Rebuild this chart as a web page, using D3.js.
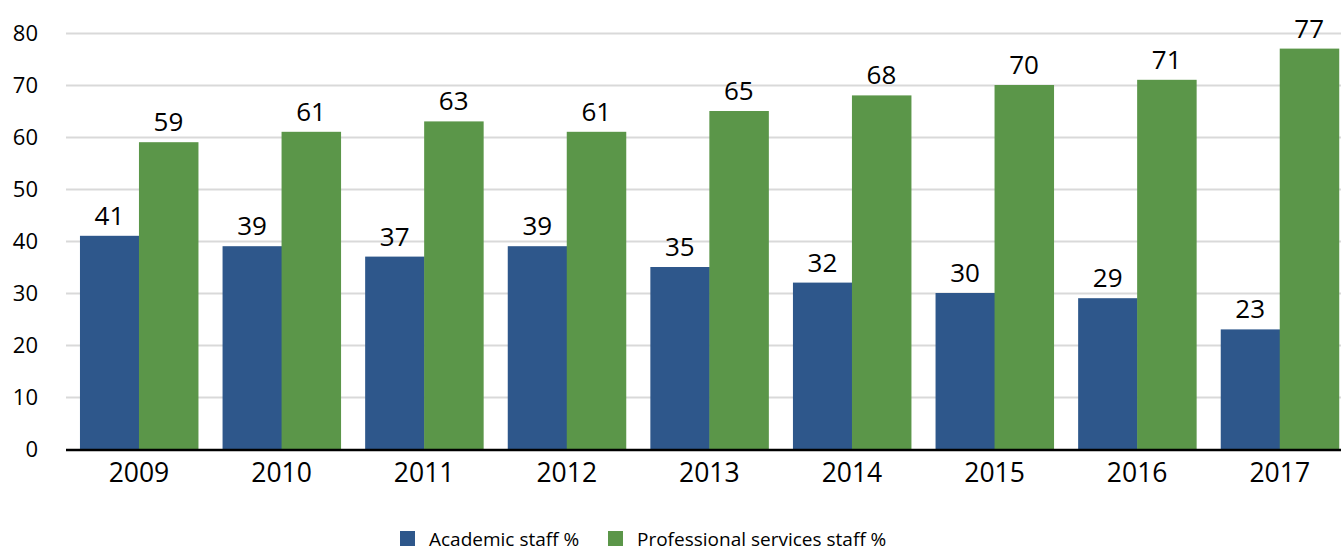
<!DOCTYPE html>
<html lang="en">
<head>
<meta charset="utf-8">
<title>Staff split</title>
<script src="https://d3js.org/d3.v7.min.js"></script>
<style>
  body { margin: 0; background: #fff; }
  text { font-family: "Open Sans", "Noto Sans", sans-serif; fill: #000; }
  .grid path { display: none; }
</style>
</head>
<body>
<svg id="chart" width="1341" height="547"></svg>
<script>
// data
var years = ["2009", "2010", "2011", "2012", "2013", "2014", "2015", "2016", "2017"];
var academic = [41, 39, 37, 39, 35, 32, 30, 29, 23];
var professional = [59, 61, 63, 61, 65, 68, 70, 71, 77];
var seriesNames = ["Academic staff %", "Professional services staff %"];
var yTicks = [0, 10, 20, 30, 40, 50, 60, 70, 80];
var colors = ["#2e578b", "#5b9649"];

var svg = d3.select("#chart");
var plotLeft = 67.7, plotRight = 1351, plotTop = 33, plotBottom = 449;

var x0 = d3.scaleBand().domain(years).range([plotLeft, plotRight]).paddingInner(0.1725).paddingOuter(0.086);
var x1 = d3.scaleBand().domain([0, 1]).range([0, x0.bandwidth()]);
var y = d3.scaleLinear().domain([0, 80]).range([plotBottom, plotTop]);

// gridlines
svg.append("g")
  .attr("class", "grid")
  .attr("transform", "translate(66,0)")
  .call(d3.axisLeft(y).tickValues(yTicks.slice(1)).tickSize(-1300).tickFormat(""))
  .call(function(g) { g.selectAll("line").attr("stroke", "#d9d9d9").attr("stroke-width", 2); });

// y labels
svg.append("g").selectAll("text")
  .data(yTicks)
  .enter().append("text")
  .attr("x", 38)
  .attr("y", function(d) { return y(d); })
  .attr("dy", "0.35em")
  .attr("text-anchor", "end")
  .style("font-size", "22px")
  .text(function(d) { return d; });

var rows = years.map(function(yr, i) {
  return { year: yr, vals: [academic[i], professional[i]] };
});

var groups = svg.append("g").selectAll("g")
  .data(rows)
  .enter().append("g")
  .attr("transform", function(d) { return "translate(" + x0(d.year) + ",0)"; });

groups.selectAll("rect")
  .data(function(d) { return d.vals.map(function(v, k) { return { k: k, v: v }; }); })
  .enter().append("rect")
  .attr("x", function(d) { return x1(d.k); })
  .attr("width", x1.bandwidth() + 0.5)
  .attr("y", function(d) { return y(d.v); })
  .attr("height", function(d) { return plotBottom - y(d.v); })
  .attr("fill", function(d) { return colors[d.k]; });

groups.selectAll("text.val")
  .data(function(d) { return d.vals.map(function(v, k) { return { k: k, v: v }; }); })
  .enter().append("text")
  .attr("class", "val")
  .attr("x", function(d) { return x1(d.k) + x1.bandwidth() / 2; })
  .attr("y", function(d) { return y(d.v) - 11; })
  .attr("text-anchor", "middle")
  .style("font-size", "26px")
  .text(function(d) { return d.v; });

// baseline
svg.append("line")
  .attr("x1", 66).attr("x2", 1341)
  .attr("y1", plotBottom + 1).attr("y2", plotBottom + 1)
  .attr("stroke", "#000").attr("stroke-width", 2.5);

// x labels
svg.append("g").selectAll("text")
  .data(years)
  .enter().append("text")
  .attr("x", function(d) { return x0(d) + x0.bandwidth() / 2; })
  .attr("y", 482)
  .attr("text-anchor", "middle")
  .style("font-size", "26.5px")
  .text(function(d) { return d; });

// legend
var legendX = [400, 608];
var legend = svg.append("g").selectAll("g")
  .data(seriesNames)
  .enter().append("g")
  .attr("transform", function(d, i) { return "translate(" + legendX[i] + ",531)"; });

legend.append("rect")
  .attr("width", 15).attr("height", 15)
  .attr("fill", function(d, i) { return colors[i]; });

legend.append("text")
  .attr("x", 29)
  .attr("y", 15)
  .style("font-size", "19px")
  .text(function(d) { return d; });
</script>
</body>
</html>
